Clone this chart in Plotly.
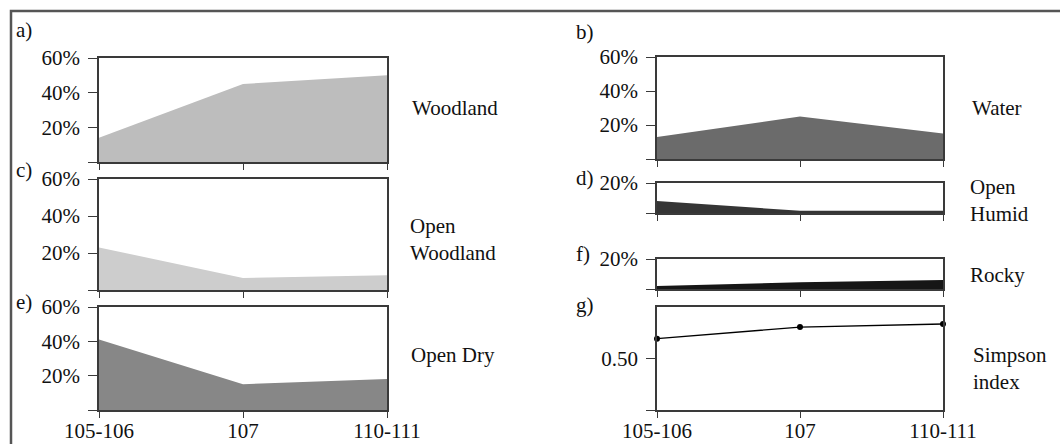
import plotly.graph_objects as go

categories = ["105-106", "107", "110-111"]
woodland = [14, 45, 50]
open_woodland = [23, 6.5, 8]
open_dry = [41, 15, 18]
water = [13, 25, 15]
open_humid = [8, 1.5, 1.5]
rocky = [2, 4.5, 6]
simpson = [0.577, 0.622, 0.634]

W, H = 1060, 444
FONT = "Liberation Serif"
FS = 21
AX = "#3a3a3a"

def xd(a, b):
    return [a / W, b / W]

def yd(top, bottom):
    return [1 - bottom / H, 1 - top / H]

xpos = list(range(len(categories)))

panels = [
    ("a", xd(99, 387), yd(58, 162), woodland, "#bdbdbd", "area", [0, 60], [0, 20, 40, 60], ["", "20%", "40%", "60%"], False),
    ("c", xd(99, 387), yd(179, 290), open_woodland, "#cdcdcd", "area", [0, 60], [0, 20, 40, 60], ["", "20%", "40%", "60%"], False),
    ("e", xd(99, 387), yd(307, 410), open_dry, "#878787", "area", [0, 60], [0, 20, 40, 60], ["", "20%", "40%", "60%"], True),
    ("b", xd(657, 943), yd(57, 159), water, "#6b6b6b", "area", [0, 60], [0, 20, 40, 60], ["", "20%", "40%", "60%"], False),
    ("d", xd(657, 943), yd(183, 213), open_humid, "#353535", "area", [0, 20], [0, 20], ["", "20%"], False),
    ("f", xd(657, 943), yd(259, 289), rocky, "#161616", "area", [0, 20], [0, 20], ["", "20%"], False),
    ("g", xd(657, 943), yd(307, 410), simpson, "#000000", "line", [0.3, 0.7], [0.3, 0.5], ["", "0.50"], True),
]

fig = go.Figure()
layout = {}
for i, (key, xdom, ydom, vals, color, kind, yr, tv, tt, showx) in enumerate(panels):
    n = i + 1
    xa = "x" if n == 1 else f"x{n}"
    ya = "y" if n == 1 else f"y{n}"
    if kind == "area":
        fig.add_trace(go.Scatter(x=xpos, y=vals, xaxis=xa, yaxis=ya, mode="lines",
                                 fill="tozeroy", fillcolor=color,
                                 line=dict(width=0, color=color), showlegend=False,
                                 hoverinfo="skip"))
    else:
        fig.add_trace(go.Scatter(x=xpos, y=vals, xaxis=xa, yaxis=ya, mode="lines+markers",
                                 line=dict(width=1.3, color=color),
                                 marker=dict(size=6, color=color), showlegend=False,
                                 cliponaxis=False))
    xname = "xaxis" if n == 1 else f"xaxis{n}"
    yname = "yaxis" if n == 1 else f"yaxis{n}"
    layout[xname] = dict(domain=xdom, anchor=ya, range=[0, 2], tickmode="array",
                         tickvals=xpos, ticktext=categories if showx else ["", "", ""],
                         ticks="outside", ticklen=6, tickcolor=AX, tickwidth=1.3,
                         showline=True, mirror=True, linecolor=AX, linewidth=1.5,
                         showgrid=False, zeroline=False, fixedrange=True,
                         automargin=False, ticklabelstandoff=-5,
                         tickfont=dict(family=FONT, size=FS, color="#111"))
    layout[yname] = dict(domain=ydom, anchor=xa, range=yr, tickmode="array",
                         tickvals=tv, ticktext=tt, ticks="outside", ticklen=9,
                         tickcolor=AX, tickwidth=1.3, showline=True, mirror=True,
                         linecolor=AX, linewidth=1.5, showgrid=False, zeroline=False,
                         ticklabelstandoff=4, fixedrange=True, automargin=False,
                         tickfont=dict(family=FONT, size=FS, color="#111"))

fig.update_layout(**layout)

annotations = []
def ann(text, x, y, anchor="left"):
    annotations.append(dict(text=text, x=x / W, y=1 - y / H, xref="paper", yref="paper",
                            xanchor=anchor, yanchor="middle", showarrow=False, align="left",
                            font=dict(family=FONT, size=FS, color="#111")))

names = [("Woodland", 410, 108), ("Open<br>Woodland", 408, 239), ("Open Dry", 409, 355),
         ("Water", 970, 108), ("Open<br>Humid", 968, 200), ("Rocky", 968, 275),
         ("Simpson<br>index", 971, 368)]
for t, x, y in names:
    ann(t, x, y)

letters = [("a)", 14, 30), ("c)", 14, 170), ("e)", 14, 302),
           ("b)", 574, 32), ("d)", 574, 178), ("f)", 574, 254), ("g)", 574, 305)]
for t, x, y in letters:
    ann(t, x, y)

fig.update_layout(
    width=W, height=H, margin=dict(l=0, r=0, t=0, b=0, autoexpand=False),
    paper_bgcolor="white", plot_bgcolor="white",
    annotations=annotations,
    shapes=[dict(type="rect", xref="paper", yref="paper", x0=11 / W, x1=1.2,
                 y0=-0.2, y1=1 - 11 / H, line=dict(color="#555", width=2.5))],
)

fig.write_html("out.html", config={"displayModeBar": False},
               post_script="document.body.style.margin='0';document.body.style.overflow='hidden';")
